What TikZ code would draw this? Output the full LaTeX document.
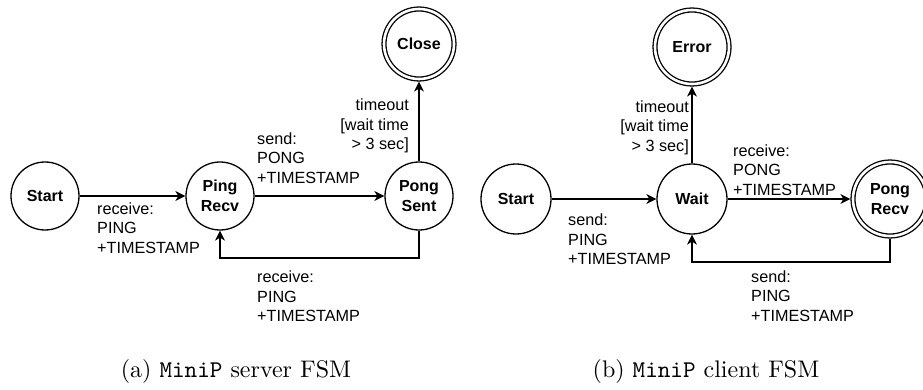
\documentclass[tikz,border=0pt]{standalone}
\usepackage{fontspec}
\newfontfamily\arialf{Liberation Sans}
\usetikzlibrary{arrows.meta,calc}
\begin{document}
\begin{tikzpicture}[x=1pt,y=-1pt,
  state/.style={circle, draw, line width=1.3pt, minimum size=68pt, inner sep=0pt, align=center, font=\arialf\bfseries\fontsize{16}{20}\selectfont},
  accept/.style={state, double, double distance=2.6pt, outer sep=2.6pt},
  arr/.style={line width=1.3pt, -{Stealth[length=10pt,width=10pt,inset=3pt]}},
  lbl/.style={inner sep=0pt, font=\arialf\fontsize{16.2}{19.5}\selectfont},
  captxt/.style={inner sep=0pt, font=\fontsize{10}{12}\selectfont}]
\useasboundingbox (0,0) rectangle (923,390);
\fill[white] (0,0) rectangle (923,390);
% left FSM
\node[state] (s1) at (45,196) {Start};
\node[state] (p1) at (220,196) {Ping\\Recv};
\node[state] (q1) at (419,196) {Pong\\Sent};
\node[accept, minimum size=70pt] (c1) at (419,44) {Close};
\draw[arr] (s1.east) -- (p1.west);
\draw[arr] (p1.east) -- (q1.west);
\draw[arr] (q1.north) -- (c1.south);
\coordinate (lb) at (0,258);
\draw[arr] (q1.south) -- (q1.south |- lb) -| (p1.south);
\node[lbl, anchor=west, align=left] (l1) at (97,228) {receive:\\PING\\+TIMESTAMP};
\node[lbl, anchor=west, align=left] (l2) at (257,158) {send:\\PONG\\+TIMESTAMP};
\node[lbl, anchor=east, align=right] (l3) at (409,126) {timeout\\{[}wait time\\> 3 sec{]}};
\node[lbl, anchor=west, align=left] (l4) at (257,296.5) {receive:\\PING\\+TIMESTAMP};
% right FSM
\node[state, minimum size=70pt] (s2) at (516,199) {Start};
\node[state, minimum size=70pt] (w2) at (692,199) {Wait};
\node[accept, minimum size=74pt] (r2) at (890,199) {Pong\\Recv};
\node[accept, minimum size=74pt] (e2) at (692,47) {Error};
\draw[arr] (s2.east) -- (w2.west);
\draw[arr] (w2.east) -- (r2.west);
\draw[arr] (w2.north) -- (e2.south);
\coordinate (rb) at (0,262);
\draw[arr] (r2.south) -- (r2.south |- rb) -| (w2.south);
\node[lbl, anchor=west, align=left] (m1) at (568,239.5) {send:\\PING\\+TIMESTAMP};
\node[lbl, anchor=east, align=right] (m2) at (689,127.5) {timeout\\{[}wait time\\> 3 sec{]}};
\node[lbl, anchor=west, align=left] (m3) at (733,170) {receive:\\PONG\\+TIMESTAMP};
\node[lbl, anchor=west, align=left] (m4) at (751,296) {send:\\PING\\+TIMESTAMP};
% captions
\node[captxt, anchor=base] (ca) at (236,377) {\scalebox{2.4}{(a) \texttt{MiniP} server FSM}};
\node[captxt, anchor=base] (cb) at (706,377) {\scalebox{2.4}{(b) \texttt{MiniP} client FSM}};
\end{tikzpicture}
\end{document}
